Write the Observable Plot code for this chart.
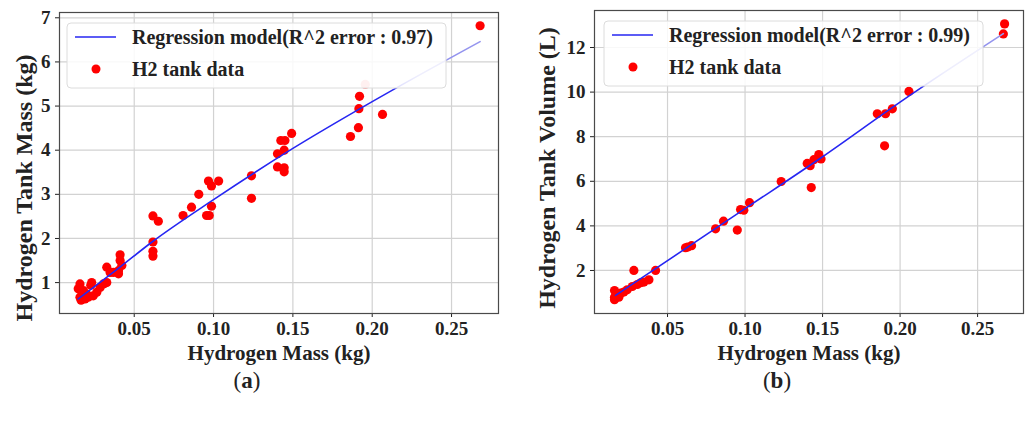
<!DOCTYPE html>
<html><head><meta charset="utf-8">
<script src="https://cdn.jsdelivr.net/npm/d3@7"></script>
<script src="https://cdn.jsdelivr.net/npm/@observablehq/plot@0.6"></script>
<style>
body{margin:0;background:#fff;}
#fig{position:relative;width:1027px;height:422px;overflow:hidden;font-family:"Liberation Serif",serif;color:#222;}
.panel{position:absolute;top:0;}
.cap{position:absolute;top:369px;font-size:23px;line-height:1;transform:translateX(-50%);white-space:nowrap;}
</style></head><body><div id="fig"></div>
<script>
// ---------- data ----------
const massA = [0.268,0.192,0.1916,0.2065,0.1913,0.1863,0.1492,0.1424,0.1450,0.1445,0.1403,0.1403,0.1445,0.1445,0.1239,0.1239,0.0968,0.1032,0.0987,0.0907,0.0861,0.0987,0.0956,0.0973,0.0808,0.0618,0.0652,0.0618,0.0618,0.0618,0.0411,0.0411,0.0422,0.0401,0.0401,0.0369,0.0348,0.0327,0.0327,0.0306,0.0285,0.0264,0.0242,0.0232,0.0226,0.0210,0.0200,0.0190,0.0180,0.0158,0.0147,0.0158,0.0165];
const tankMassA = [6.82,5.22,4.94,4.81,4.51,4.31,4.38,4.22,4.22,4.00,3.92,3.62,3.60,3.51,3.42,2.91,3.30,3.30,3.19,3.00,2.71,2.73,2.52,2.52,2.52,2.51,2.39,1.92,1.71,1.60,1.63,1.50,1.39,1.27,1.20,1.23,1.23,1.35,1.00,0.97,0.89,0.78,0.70,1.00,0.94,0.67,0.74,0.63,0.82,0.97,0.86,0.67,0.60];
const fadedMassA = [0.1956];
const fadedTankMassA = [5.49];
const fitMassA = [0.0147,0.041,0.0612,0.10,0.15,0.20,0.268];
const fitTankMassA = [0.63,1.35,1.92,2.88,4.04,5.10,6.46];

const massB = [0.2674,0.2666,0.2057,0.1950,0.1906,0.1853,0.1900,0.1476,0.1490,0.1444,0.1401,0.1420,0.1427,0.1233,0.1029,0.0971,0.0992,0.0950,0.0861,0.0810,0.0616,0.0655,0.0630,0.0423,0.0283,0.0380,0.0348,0.0327,0.0305,0.0273,0.0240,0.0218,0.0197,0.0158,0.0158,0.0158,0.0186];
const tankVolumeB = [13.06,12.61,10.03,9.25,9.03,9.03,7.59,7.20,7.00,6.97,6.80,6.70,5.72,5.99,5.04,4.73,4.70,3.81,4.21,3.87,3.02,3.11,3.05,2.00,2.00,1.58,1.48,1.45,1.37,1.28,1.13,1.03,0.98,1.10,0.80,0.69,0.80];
const fitMassB = [0.0165,0.10,0.15,0.20,0.2666];
const fitTankVolumeB = [0.88,4.77,7.10,9.55,12.62];

const xTicks = [0.05,0.10,0.15,0.20,0.25];
const yTicksA = [1,2,3,4,5,6,7];
const yTicksB = [2,4,6,8,10,12];
const legendLabelsA = ["Regression model(R^2 error : 0.97)","H2 tank data"];
const legendLabelsB = ["Regression model(R^2 error : 0.99)","H2 tank data"];
const xLabel = "Hydrogen Mass (kg)";
const yLabelA = "Hydrogen Tank Mass (kg)";
const yLabelB = "Hydrogen Tank Volume (L)";
const captions = ["a","b"];

// ---------- helpers ----------
const BLUE = "#2626f2";
const FONT = "'Liberation Serif', serif";

function gradDefs(id) {
  return () => {
    const defs = d3.create("svg:defs");
    const lg = defs.append("linearGradient").attr("id", id)
      .attr("x1", 0).attr("x2", 1).attr("y1", 0).attr("y2", 0);
    lg.append("stop").attr("offset", 0.78).attr("stop-color", BLUE);
    lg.append("stop").attr("offset", 0.85).attr("stop-color", "#8c8cee");
    lg.append("stop").attr("offset", 1).attr("stop-color", "#9696ee");
    return defs.node();
  };
}

function legendMark(labels, boxDx) {
  return (index, scales, values, dims) => {
    const g = d3.create("svg:g")
      .attr("transform", `translate(${dims.marginLeft + boxDx},${dims.marginTop + 11})`);
    g.append("rect").attr("width", 379).attr("height", 65).attr("rx", 4)
      .attr("fill", "white").attr("fill-opacity", 0.85).attr("stroke", "#dcdcdc");
    g.append("line").attr("x1", 8).attr("x2", 49).attr("y1", 14).attr("y2", 14)
      .attr("stroke", BLUE).attr("stroke-width", 1.6);
    g.append("circle").attr("cx", 29).attr("cy", 46).attr("r", 4.5).attr("fill", "red");
    g.selectAll("text").data(labels).join("text")
      .attr("x", 65).attr("y", (d, i) => 14 + i * 32).attr("dy", "0.35em")
      .attr("text-anchor", "start")
      .attr("font-size", 20).attr("font-weight", "bold").attr("fill", "#222")
      .attr("font-family", FONT)
      .text(d => d);
    return g.node();
  };
}

function panel(cfg) {
  const pts = cfg.xs.map((x, i) => ({x, y: cfg.ys[i]}));
  const faded = (cfg.fx || []).map((x, i) => ({x, y: cfg.fy[i]}));
  const fit = cfg.fitX.map((x, i) => ({x, y: cfg.fitY[i]}));
  return Plot.plot({
    width: cfg.width, height: 365,
    marginLeft: cfg.ml, marginRight: cfg.mr, marginTop: cfg.mt, marginBottom: 365 - 313,
    style: {fontFamily: FONT, fontSize: "19px", fontWeight: "bold", color: "#222", background: "white"},
    x: {domain: [0.0029, 0.2796], ticks: xTicks, tickFormat: d3.format(".2f"), label: null, tickSize: 4, tickPadding: 4},
    y: {domain: cfg.yDomain, ticks: cfg.yTicks, tickFormat: d => String(d), label: null, tickSize: 4, tickPadding: 5},
    marks: [
      gradDefs(cfg.gid),
      Plot.ruleX(xTicks, {stroke: "#d2d2d2", strokeWidth: 1.2}),
      Plot.ruleY(cfg.yTicks, {stroke: "#d2d2d2", strokeWidth: 1.2}),
      Plot.dot(pts, {x: "x", y: "y", r: 4.6, fill: "red"}),
      Plot.dot(faded, {x: "x", y: "y", r: 4.6, fill: "red", fillOpacity: 0.4}),
      Plot.line(fit, {x: "x", y: "y", stroke: `url(#${cfg.gid})`, strokeWidth: 1.6, curve: "monotone-x"}),
      Plot.frame({stroke: "#4a4a4a", strokeWidth: 1.2}),
      legendMark(cfg.legend, cfg.legDx),
      Plot.text([xLabel], {frameAnchor: "bottom", dy: 40, lineAnchor: "middle", textAnchor: "middle", text: d => d, fontSize: 21, fontWeight: "bold", fill: "#222"}),
      Plot.text([cfg.yLabel], {frameAnchor: "left", dx: cfg.ylDx, dy: cfg.ylDy, rotate: -90, textAnchor: "middle", lineAnchor: "middle", text: d => d, fontSize: 24, fontWeight: "bold", fill: "#222"})
    ]
  });
}

const fig = document.getElementById("fig");

const a = panel({
  width: 530, ml: 59, mr: 32, mt: 12, gid: "fadeA",
  xs: massA, ys: tankMassA, fx: fadedMassA, fy: fadedTankMassA,
  fitX: fitMassA, fitY: fitTankMassA,
  yDomain: [0.30, 7.12], yTicks: yTicksA,
  legend: legendLabelsA, legDx: 8,
  yLabel: yLabelA, ylDx: -35, ylDy: 25
});
a.classList.add("panel"); a.style.left = "0px";
fig.appendChild(a);

const b = panel({
  width: 497, ml: 64, mr: 4, mt: 10, gid: "fadeB",
  xs: massB, ys: tankVolumeB,
  fitX: fitMassB, fitY: fitTankVolumeB,
  yDomain: [0.07, 13.66], yTicks: yTicksB,
  legend: legendLabelsB, legDx: 10,
  yLabel: yLabelB, ylDx: -47, ylDy: 6
});
b.classList.add("panel"); b.style.left = "530px";
fig.appendChild(b);

const capX = [247, 777];
captions.forEach((c, i) => {
  const d = document.createElement("div");
  d.className = "cap";
  d.style.left = capX[i] + "px";
  d.innerHTML = "(<b></b>)";
  d.querySelector("b").textContent = c;
  fig.appendChild(d);
});
</script>
</body></html>
